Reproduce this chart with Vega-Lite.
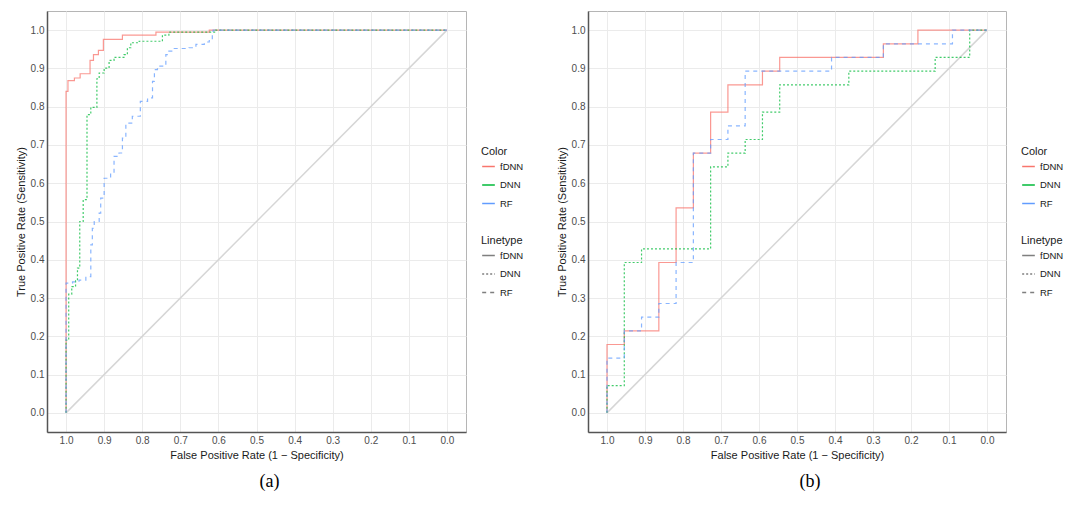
{
  "$schema": "https://vega.github.io/schema/vega-lite/v6.json",
  "background": "white",
  "padding": {"left": 14, "top": 10, "right": 2, "bottom": 5},
  "spacing": 30,
  "resolve": {"scale": {"color": "independent", "strokeDash": "independent"}, "legend": {"color": "independent", "strokeDash": "independent"}},
  "datasets": {
    "diag": [{"s": 1, "v": 0}, {"s": 0, "v": 1}],
    "rocA": [
      {"m": "fDNN", "i": 1, "s": 1, "v": 0},
      {"m": "fDNN", "i": 2, "s": 1, "v": 0.84},
      {"m": "fDNN", "i": 3, "s": 0.995, "v": 0.84},
      {"m": "fDNN", "i": 4, "s": 0.995, "v": 0.868},
      {"m": "fDNN", "i": 5, "s": 0.978, "v": 0.868},
      {"m": "fDNN", "i": 6, "s": 0.978, "v": 0.875},
      {"m": "fDNN", "i": 7, "s": 0.963, "v": 0.875},
      {"m": "fDNN", "i": 8, "s": 0.963, "v": 0.886},
      {"m": "fDNN", "i": 9, "s": 0.937, "v": 0.886},
      {"m": "fDNN", "i": 10, "s": 0.937, "v": 0.921},
      {"m": "fDNN", "i": 11, "s": 0.928, "v": 0.921},
      {"m": "fDNN", "i": 12, "s": 0.928, "v": 0.936},
      {"m": "fDNN", "i": 13, "s": 0.915, "v": 0.936},
      {"m": "fDNN", "i": 14, "s": 0.915, "v": 0.947},
      {"m": "fDNN", "i": 15, "s": 0.902, "v": 0.947},
      {"m": "fDNN", "i": 16, "s": 0.902, "v": 0.976},
      {"m": "fDNN", "i": 17, "s": 0.852, "v": 0.976},
      {"m": "fDNN", "i": 18, "s": 0.852, "v": 0.987},
      {"m": "fDNN", "i": 19, "s": 0.764, "v": 0.987},
      {"m": "fDNN", "i": 20, "s": 0.764, "v": 0.995},
      {"m": "fDNN", "i": 21, "s": 0.624, "v": 0.995},
      {"m": "fDNN", "i": 22, "s": 0.624, "v": 1},
      {"m": "fDNN", "i": 23, "s": 0, "v": 1},
      {"m": "DNN", "i": 1, "s": 1, "v": 0},
      {"m": "DNN", "i": 2, "s": 1, "v": 0.19},
      {"m": "DNN", "i": 3, "s": 0.993, "v": 0.19},
      {"m": "DNN", "i": 4, "s": 0.993, "v": 0.31},
      {"m": "DNN", "i": 5, "s": 0.985, "v": 0.31},
      {"m": "DNN", "i": 6, "s": 0.985, "v": 0.33},
      {"m": "DNN", "i": 7, "s": 0.975, "v": 0.33},
      {"m": "DNN", "i": 8, "s": 0.975, "v": 0.345},
      {"m": "DNN", "i": 9, "s": 0.97, "v": 0.345},
      {"m": "DNN", "i": 10, "s": 0.97, "v": 0.378},
      {"m": "DNN", "i": 11, "s": 0.964, "v": 0.378},
      {"m": "DNN", "i": 12, "s": 0.964, "v": 0.5},
      {"m": "DNN", "i": 13, "s": 0.955, "v": 0.5},
      {"m": "DNN", "i": 14, "s": 0.955, "v": 0.557},
      {"m": "DNN", "i": 15, "s": 0.945, "v": 0.557},
      {"m": "DNN", "i": 16, "s": 0.945, "v": 0.779},
      {"m": "DNN", "i": 17, "s": 0.935, "v": 0.779},
      {"m": "DNN", "i": 18, "s": 0.935, "v": 0.798},
      {"m": "DNN", "i": 19, "s": 0.919, "v": 0.798},
      {"m": "DNN", "i": 20, "s": 0.919, "v": 0.873},
      {"m": "DNN", "i": 21, "s": 0.913, "v": 0.873},
      {"m": "DNN", "i": 22, "s": 0.913, "v": 0.888},
      {"m": "DNN", "i": 23, "s": 0.9, "v": 0.888},
      {"m": "DNN", "i": 24, "s": 0.9, "v": 0.901},
      {"m": "DNN", "i": 25, "s": 0.887, "v": 0.901},
      {"m": "DNN", "i": 26, "s": 0.887, "v": 0.921},
      {"m": "DNN", "i": 27, "s": 0.874, "v": 0.921},
      {"m": "DNN", "i": 28, "s": 0.874, "v": 0.929},
      {"m": "DNN", "i": 29, "s": 0.848, "v": 0.929},
      {"m": "DNN", "i": 30, "s": 0.848, "v": 0.936},
      {"m": "DNN", "i": 31, "s": 0.839, "v": 0.936},
      {"m": "DNN", "i": 32, "s": 0.839, "v": 0.954},
      {"m": "DNN", "i": 33, "s": 0.83, "v": 0.954},
      {"m": "DNN", "i": 34, "s": 0.83, "v": 0.967},
      {"m": "DNN", "i": 35, "s": 0.808, "v": 0.967},
      {"m": "DNN", "i": 36, "s": 0.808, "v": 0.971},
      {"m": "DNN", "i": 37, "s": 0.747, "v": 0.971},
      {"m": "DNN", "i": 38, "s": 0.747, "v": 0.987},
      {"m": "DNN", "i": 39, "s": 0.73, "v": 0.987},
      {"m": "DNN", "i": 40, "s": 0.73, "v": 0.995},
      {"m": "DNN", "i": 41, "s": 0.607, "v": 0.995},
      {"m": "DNN", "i": 42, "s": 0.607, "v": 1},
      {"m": "DNN", "i": 43, "s": 0, "v": 1},
      {"m": "RF", "i": 1, "s": 1, "v": 0},
      {"m": "RF", "i": 2, "s": 1, "v": 0.339},
      {"m": "RF", "i": 3, "s": 0.983, "v": 0.339},
      {"m": "RF", "i": 4, "s": 0.983, "v": 0.342},
      {"m": "RF", "i": 5, "s": 0.966, "v": 0.342},
      {"m": "RF", "i": 6, "s": 0.966, "v": 0.347},
      {"m": "RF", "i": 7, "s": 0.948, "v": 0.347},
      {"m": "RF", "i": 8, "s": 0.948, "v": 0.356},
      {"m": "RF", "i": 9, "s": 0.935, "v": 0.356},
      {"m": "RF", "i": 10, "s": 0.935, "v": 0.439},
      {"m": "RF", "i": 11, "s": 0.931, "v": 0.439},
      {"m": "RF", "i": 12, "s": 0.931, "v": 0.482},
      {"m": "RF", "i": 13, "s": 0.926, "v": 0.482},
      {"m": "RF", "i": 14, "s": 0.926, "v": 0.5},
      {"m": "RF", "i": 15, "s": 0.913, "v": 0.5},
      {"m": "RF", "i": 16, "s": 0.913, "v": 0.522},
      {"m": "RF", "i": 17, "s": 0.909, "v": 0.522},
      {"m": "RF", "i": 18, "s": 0.909, "v": 0.561},
      {"m": "RF", "i": 19, "s": 0.9, "v": 0.561},
      {"m": "RF", "i": 20, "s": 0.9, "v": 0.613},
      {"m": "RF", "i": 21, "s": 0.883, "v": 0.613},
      {"m": "RF", "i": 22, "s": 0.883, "v": 0.626},
      {"m": "RF", "i": 23, "s": 0.874, "v": 0.626},
      {"m": "RF", "i": 24, "s": 0.874, "v": 0.67},
      {"m": "RF", "i": 25, "s": 0.861, "v": 0.67},
      {"m": "RF", "i": 26, "s": 0.861, "v": 0.679},
      {"m": "RF", "i": 27, "s": 0.852, "v": 0.679},
      {"m": "RF", "i": 28, "s": 0.852, "v": 0.718},
      {"m": "RF", "i": 29, "s": 0.843, "v": 0.718},
      {"m": "RF", "i": 30, "s": 0.843, "v": 0.757},
      {"m": "RF", "i": 31, "s": 0.826, "v": 0.757},
      {"m": "RF", "i": 32, "s": 0.826, "v": 0.775},
      {"m": "RF", "i": 33, "s": 0.805, "v": 0.775},
      {"m": "RF", "i": 34, "s": 0.805, "v": 0.814},
      {"m": "RF", "i": 35, "s": 0.786, "v": 0.814},
      {"m": "RF", "i": 36, "s": 0.786, "v": 0.823},
      {"m": "RF", "i": 37, "s": 0.773, "v": 0.823},
      {"m": "RF", "i": 38, "s": 0.773, "v": 0.866},
      {"m": "RF", "i": 39, "s": 0.768, "v": 0.866},
      {"m": "RF", "i": 40, "s": 0.768, "v": 0.897},
      {"m": "RF", "i": 41, "s": 0.76, "v": 0.897},
      {"m": "RF", "i": 42, "s": 0.76, "v": 0.906},
      {"m": "RF", "i": 43, "s": 0.738, "v": 0.906},
      {"m": "RF", "i": 44, "s": 0.738, "v": 0.936},
      {"m": "RF", "i": 45, "s": 0.73, "v": 0.936},
      {"m": "RF", "i": 46, "s": 0.73, "v": 0.945},
      {"m": "RF", "i": 47, "s": 0.72, "v": 0.945},
      {"m": "RF", "i": 48, "s": 0.72, "v": 0.952},
      {"m": "RF", "i": 49, "s": 0.677, "v": 0.952},
      {"m": "RF", "i": 50, "s": 0.677, "v": 0.954},
      {"m": "RF", "i": 51, "s": 0.659, "v": 0.954},
      {"m": "RF", "i": 52, "s": 0.659, "v": 0.963},
      {"m": "RF", "i": 53, "s": 0.637, "v": 0.963},
      {"m": "RF", "i": 54, "s": 0.637, "v": 0.969},
      {"m": "RF", "i": 55, "s": 0.624, "v": 0.969},
      {"m": "RF", "i": 56, "s": 0.624, "v": 0.976},
      {"m": "RF", "i": 57, "s": 0.616, "v": 0.976},
      {"m": "RF", "i": 58, "s": 0.616, "v": 0.993},
      {"m": "RF", "i": 59, "s": 0.614, "v": 0.993},
      {"m": "RF", "i": 60, "s": 0.614, "v": 1},
      {"m": "RF", "i": 61, "s": 0, "v": 1}
    ],
    "rocB": [
      {"m": "fDNN", "i": 1, "s": 1, "v": 0},
      {"m": "fDNN", "i": 2, "s": 1, "v": 0.1786},
      {"m": "fDNN", "i": 3, "s": 0.9545, "v": 0.1786},
      {"m": "fDNN", "i": 4, "s": 0.9545, "v": 0.2143},
      {"m": "fDNN", "i": 5, "s": 0.8636, "v": 0.2143},
      {"m": "fDNN", "i": 6, "s": 0.8636, "v": 0.3929},
      {"m": "fDNN", "i": 7, "s": 0.8182, "v": 0.3929},
      {"m": "fDNN", "i": 8, "s": 0.8182, "v": 0.5357},
      {"m": "fDNN", "i": 9, "s": 0.7727, "v": 0.5357},
      {"m": "fDNN", "i": 10, "s": 0.7727, "v": 0.6786},
      {"m": "fDNN", "i": 11, "s": 0.7273, "v": 0.6786},
      {"m": "fDNN", "i": 12, "s": 0.7273, "v": 0.7857},
      {"m": "fDNN", "i": 13, "s": 0.6818, "v": 0.7857},
      {"m": "fDNN", "i": 14, "s": 0.6818, "v": 0.8571},
      {"m": "fDNN", "i": 15, "s": 0.5909, "v": 0.8571},
      {"m": "fDNN", "i": 16, "s": 0.5909, "v": 0.8929},
      {"m": "fDNN", "i": 17, "s": 0.5455, "v": 0.8929},
      {"m": "fDNN", "i": 18, "s": 0.5455, "v": 0.9286},
      {"m": "fDNN", "i": 19, "s": 0.2727, "v": 0.9286},
      {"m": "fDNN", "i": 20, "s": 0.2727, "v": 0.9643},
      {"m": "fDNN", "i": 21, "s": 0.1818, "v": 0.9643},
      {"m": "fDNN", "i": 22, "s": 0.1818, "v": 1},
      {"m": "fDNN", "i": 23, "s": 0, "v": 1},
      {"m": "DNN", "i": 1, "s": 1, "v": 0},
      {"m": "DNN", "i": 2, "s": 1, "v": 0.0714},
      {"m": "DNN", "i": 3, "s": 0.9545, "v": 0.0714},
      {"m": "DNN", "i": 4, "s": 0.9545, "v": 0.3929},
      {"m": "DNN", "i": 5, "s": 0.9091, "v": 0.3929},
      {"m": "DNN", "i": 6, "s": 0.9091, "v": 0.4286},
      {"m": "DNN", "i": 7, "s": 0.7273, "v": 0.4286},
      {"m": "DNN", "i": 8, "s": 0.7273, "v": 0.6429},
      {"m": "DNN", "i": 9, "s": 0.6818, "v": 0.6429},
      {"m": "DNN", "i": 10, "s": 0.6818, "v": 0.6786},
      {"m": "DNN", "i": 11, "s": 0.6364, "v": 0.6786},
      {"m": "DNN", "i": 12, "s": 0.6364, "v": 0.7143},
      {"m": "DNN", "i": 13, "s": 0.5909, "v": 0.7143},
      {"m": "DNN", "i": 14, "s": 0.5909, "v": 0.7857},
      {"m": "DNN", "i": 15, "s": 0.5455, "v": 0.7857},
      {"m": "DNN", "i": 16, "s": 0.5455, "v": 0.8571},
      {"m": "DNN", "i": 17, "s": 0.3636, "v": 0.8571},
      {"m": "DNN", "i": 18, "s": 0.3636, "v": 0.8929},
      {"m": "DNN", "i": 19, "s": 0.1364, "v": 0.8929},
      {"m": "DNN", "i": 20, "s": 0.1364, "v": 0.9286},
      {"m": "DNN", "i": 21, "s": 0.0455, "v": 0.9286},
      {"m": "DNN", "i": 22, "s": 0.0455, "v": 1},
      {"m": "DNN", "i": 23, "s": 0, "v": 1},
      {"m": "RF", "i": 1, "s": 1, "v": 0},
      {"m": "RF", "i": 2, "s": 1, "v": 0.1429},
      {"m": "RF", "i": 3, "s": 0.9545, "v": 0.1429},
      {"m": "RF", "i": 4, "s": 0.9545, "v": 0.2143},
      {"m": "RF", "i": 5, "s": 0.9091, "v": 0.2143},
      {"m": "RF", "i": 6, "s": 0.9091, "v": 0.25},
      {"m": "RF", "i": 7, "s": 0.8636, "v": 0.25},
      {"m": "RF", "i": 8, "s": 0.8636, "v": 0.2857},
      {"m": "RF", "i": 9, "s": 0.8182, "v": 0.2857},
      {"m": "RF", "i": 10, "s": 0.8182, "v": 0.3929},
      {"m": "RF", "i": 11, "s": 0.7727, "v": 0.3929},
      {"m": "RF", "i": 12, "s": 0.7727, "v": 0.6786},
      {"m": "RF", "i": 13, "s": 0.7273, "v": 0.6786},
      {"m": "RF", "i": 14, "s": 0.7273, "v": 0.7143},
      {"m": "RF", "i": 15, "s": 0.6818, "v": 0.7143},
      {"m": "RF", "i": 16, "s": 0.6818, "v": 0.75},
      {"m": "RF", "i": 17, "s": 0.6364, "v": 0.75},
      {"m": "RF", "i": 18, "s": 0.6364, "v": 0.8929},
      {"m": "RF", "i": 19, "s": 0.4091, "v": 0.8929},
      {"m": "RF", "i": 20, "s": 0.4091, "v": 0.9286},
      {"m": "RF", "i": 21, "s": 0.2727, "v": 0.9286},
      {"m": "RF", "i": 22, "s": 0.2727, "v": 0.9643},
      {"m": "RF", "i": 23, "s": 0.0909, "v": 0.9643},
      {"m": "RF", "i": 24, "s": 0.0909, "v": 1},
      {"m": "RF", "i": 25, "s": 0, "v": 1}
    ]
  },
  "hconcat": [
    {
      "width": 419,
      "height": 421,
      "title": {"text": "(a)"},
      "layer": [
        {
          "data": {"name": "diag"},
          "mark": {"type": "line", "color": "#d6d6d6", "strokeWidth": 1.5},
          "encoding": {
            "x": {"field": "s", "type": "quantitative", "scale": {"domain": [-0.05, 1.05], "reverse": true, "nice": false, "zero": false},
              "axis": {"title": "False Positive Rate (1 − Specificity)", "values": [0,0.05,0.1,0.15,0.2,0.25,0.3,0.35,0.4,0.45,0.5,0.55,0.6,0.65,0.7,0.75,0.8,0.85,0.9,0.95,1], "labelExpr": "round(datum.value*20) % 2 == 0 ? format(datum.value, '.1f') : ''"}},
            "y": {"field": "v", "type": "quantitative", "scale": {"domain": [-0.05, 1.05], "nice": false, "zero": false},
              "axis": {"title": "True Positive Rate (Sensitivity)", "values": [0,0.05,0.1,0.15,0.2,0.25,0.3,0.35,0.4,0.45,0.5,0.55,0.6,0.65,0.7,0.75,0.8,0.85,0.9,0.95,1], "labelExpr": "round(datum.value*20) % 2 == 0 ? format(datum.value, '.1f') : ''"}}
          }
        },
        {
          "data": {"name": "rocA"},
          "mark": {"type": "line", "strokeWidth": 1.2, "opacity": 0.75},
          "encoding": {
            "x": {"field": "s", "type": "quantitative"},
            "y": {"field": "v", "type": "quantitative"},
            "order": {"field": "i", "type": "quantitative"},
            "color": {"field": "m", "type": "nominal", "scale": {"domain": ["fDNN", "DNN", "RF"], "range": ["#F8766D", "#00BA38", "#619CFF"]}, "legend": {"title": "Color", "symbolOpacity": 1}},
            "strokeDash": {"field": "m", "type": "nominal", "sort": ["fDNN", "DNN", "RF"], "scale": {"range": [[1, 0], [2, 2], [4, 4]]}, "legend": {"title": "Linetype", "symbolStrokeColor": "#555555"}}
          }
        }
      ]
    },
    {
      "width": 418,
      "height": 421,
      "title": {"text": "(b)"},
      "layer": [
        {
          "data": {"name": "diag"},
          "mark": {"type": "line", "color": "#d6d6d6", "strokeWidth": 1.5},
          "encoding": {
            "x": {"field": "s", "type": "quantitative", "scale": {"domain": [-0.05, 1.05], "reverse": true, "nice": false, "zero": false},
              "axis": {"title": "False Positive Rate (1 − Specificity)", "values": [0,0.05,0.1,0.15,0.2,0.25,0.3,0.35,0.4,0.45,0.5,0.55,0.6,0.65,0.7,0.75,0.8,0.85,0.9,0.95,1], "labelExpr": "round(datum.value*20) % 2 == 0 ? format(datum.value, '.1f') : ''"}},
            "y": {"field": "v", "type": "quantitative", "scale": {"domain": [-0.05, 1.05], "nice": false, "zero": false},
              "axis": {"title": "True Positive Rate (Sensitivity)", "values": [0,0.05,0.1,0.15,0.2,0.25,0.3,0.35,0.4,0.45,0.5,0.55,0.6,0.65,0.7,0.75,0.8,0.85,0.9,0.95,1], "labelExpr": "round(datum.value*20) % 2 == 0 ? format(datum.value, '.1f') : ''"}}
          }
        },
        {
          "data": {"name": "rocB"},
          "mark": {"type": "line", "strokeWidth": 1.2, "opacity": 0.75},
          "encoding": {
            "x": {"field": "s", "type": "quantitative"},
            "y": {"field": "v", "type": "quantitative"},
            "order": {"field": "i", "type": "quantitative"},
            "color": {"field": "m", "type": "nominal", "scale": {"domain": ["fDNN", "DNN", "RF"], "range": ["#F8766D", "#00BA38", "#619CFF"]}, "legend": {"title": "Color", "symbolOpacity": 1}},
            "strokeDash": {"field": "m", "type": "nominal", "sort": ["fDNN", "DNN", "RF"], "scale": {"range": [[1, 0], [2, 2], [4, 4]]}, "legend": {"title": "Linetype", "symbolStrokeColor": "#555555"}}
          }
        }
      ]
    }
  ],
  "config": {
    "font": "Liberation Sans",
    "view": {"stroke": "#b5b5b5", "strokeWidth": 1},
    "axis": {"domainColor": "#555555", "domainWidth": 1.5, "gridColor": "#ebebeb", "gridWidth": 1, "ticks": false, "labelColor": "#4d4d4d", "labelFont": "Liberation Sans", "labelFontSize": 10, "labelPadding": 3, "titleFont": "Liberation Sans", "titleFontSize": 11, "titleFontWeight": "normal", "titleColor": "#1a1a1a", "titlePadding": 4},
    "legend": {"titleFont": "Liberation Sans", "titleFontSize": 11, "titleFontWeight": "normal", "titleColor": "#1a1a1a", "titlePadding": 2, "labelFont": "Liberation Sans", "labelFontSize": 9.5, "labelColor": "#1a1a1a", "symbolType": "stroke", "symbolSize": 160, "symbolStrokeWidth": 1.5, "rowPadding": 6.5, "offset": 15, "layout": {"right": {"anchor": "middle", "direction": "vertical", "margin": 27}}},
    "title": {"orient": "bottom", "anchor": "middle", "frame": "bounds", "font": "Liberation Serif", "fontSize": 18, "fontWeight": "normal", "color": "#000000", "offset": 13}
  }
}
